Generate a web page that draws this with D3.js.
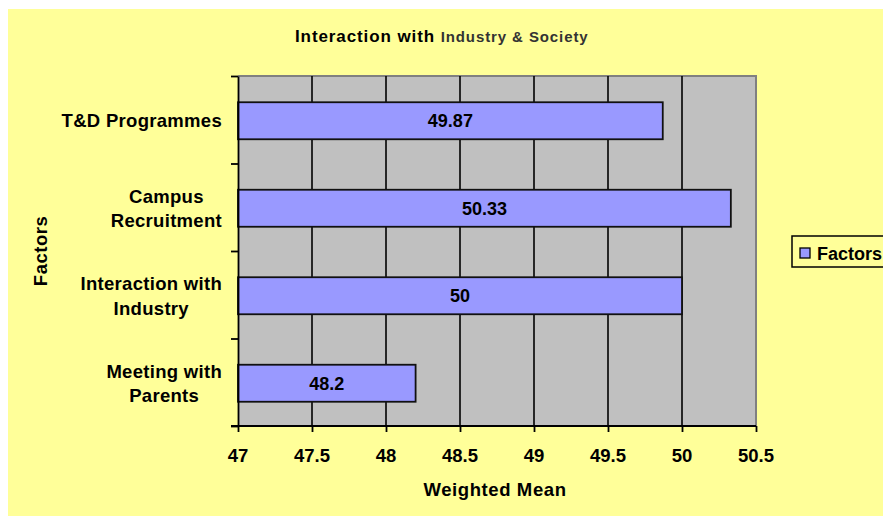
<!DOCTYPE html>
<html>
<head>
<meta charset="utf-8">
<script src="https://cdn.jsdelivr.net/npm/d3@7"></script>
<style>
  html, body { margin: 0; padding: 0; background: #ffffff; }
  svg { display: block; font-family: "Liberation Sans", Arial, sans-serif; font-weight: bold; }
</style>
</head>
<body>
<svg id="chart" width="883" height="516"></svg>
<script>
// Factors, top to bottom, with their weighted means
const categories = [
  ["T&D Programmes"],
  ["Campus", "Recruitment"],
  ["Interaction with", "Industry"],
  ["Meeting with", "Parents"]
];
const values = [49.87, 50.33, 50, 48.2];
const xTicks = [47, 47.5, 48, 48.5, 49, 49.5, 50, 50.5];
const seriesName = "Factors";

const svg = d3.select("#chart");

// chart area background
svg.append("rect")
  .attr("x", 8).attr("y", 9).attr("width", 875).attr("height", 507)
  .attr("fill", "#ffff99");

const plot = { left: 238, right: 756, top: 76, bottom: 426 };

const x = d3.scaleLinear().domain([47, 50.5]).range([plot.left, plot.right]);
const keys = categories.map(c => c.join(" "));
const y = d3.scaleBand().domain(keys).range([plot.top, plot.bottom])
  .paddingInner(0.577).paddingOuter(0.2886);
const yEdge = d3.scaleLinear().domain([0, keys.length]).range([plot.top, plot.bottom]);

// plot area
svg.append("rect")
  .attr("x", plot.left).attr("y", plot.top)
  .attr("width", plot.right - plot.left).attr("height", plot.bottom - plot.top)
  .attr("fill", "#c0c0c0");

// frame: top and right edges in grey
svg.append("path")
  .attr("d", `M${plot.left},${plot.top}H${plot.right}V${plot.bottom}`)
  .attr("fill", "none").attr("stroke", "#808080").attr("stroke-width", 2);

// vertical gridlines
svg.append("g").selectAll("line")
  .data(xTicks.filter(t => t > 47 && t < 50.5))
  .join("line")
  .attr("x1", d => x(d)).attr("x2", d => x(d))
  .attr("y1", plot.top).attr("y2", plot.bottom)
  .attr("stroke", "#000").attr("stroke-width", 1.6);

// bars
svg.append("g").selectAll("rect")
  .data(values)
  .join("rect")
  .attr("x", x(47))
  .attr("y", (d, i) => y(keys[i]) + 1)
  .attr("width", d => x(d) - x(47))
  .attr("height", y.bandwidth())
  .attr("fill", "#9999ff")
  .attr("stroke", "#111").attr("stroke-width", 1.8);

// value labels inside the bars
svg.append("g").selectAll("text")
  .data(values)
  .join("text")
  .attr("x", d => (x(47) + x(d)) / 2)
  .attr("y", (d, i) => y(keys[i]) + 1 + y.bandwidth() / 2)
  .attr("dy", "0.36em")
  .attr("text-anchor", "middle")
  .attr("font-size", 18)
  .attr("fill", "#000")
  .text(d => d);

// left axis with ticks on the category boundaries
const yAxis = svg.append("g")
  .attr("transform", `translate(${plot.left},0)`)
  .call(d3.axisLeft(yEdge).tickValues(d3.range(keys.length + 1)).tickSize(7).tickSizeOuter(0).tickFormat(""));
yAxis.selectAll("path, line").attr("stroke", "#000").attr("stroke-width", 1.8);

// bottom axis
const xAxis = svg.append("g")
  .attr("transform", `translate(0,${plot.bottom})`)
  .call(d3.axisBottom(x).tickValues(xTicks).tickSize(6).tickSizeOuter(0).tickFormat(""));
xAxis.select("path.domain").attr("d", `M${plot.left - 7},0H${plot.right}`);
xAxis.selectAll("path, line").attr("stroke", "#000").attr("stroke-width", 1.8);

svg.append("g").selectAll("text")
  .data(xTicks)
  .join("text")
  .attr("x", d => x(d))
  .attr("y", 462)
  .attr("text-anchor", "middle")
  .attr("font-size", 18.5)
  .attr("fill", "#000")
  .text(d => d);

// category labels
const catLabels = svg.append("g");
categories.forEach((lines, i) => {
  const cy = y(keys[i]) + y.bandwidth() / 2 + 1;
  const lineH = 24.5;
  const t = catLabels.append("text")
    .attr("text-anchor", "middle")
    .attr("font-size", 18.5)
    .attr("letter-spacing", 0.3)
    .attr("fill", "#000");
  lines.forEach((ln, j) => {
    t.append("tspan")
      .attr("x", 0)
      .attr("y", cy + (j - (lines.length - 1) / 2) * lineH)
      .attr("dy", "0.36em")
      .text(ln);
  });
  const w = t.node().getBBox().width;
  t.attr("transform", `translate(${222 - w / 2},0)`);
});

// axis titles
svg.append("text")
  .attr("x", 495).attr("y", 496)
  .attr("text-anchor", "middle")
  .attr("font-size", 18.5)
  .attr("letter-spacing", 0.6)
  .attr("fill", "#000")
  .text("Weighted Mean");

svg.append("text")
  .attr("transform", "translate(47,251) rotate(-90)")
  .attr("text-anchor", "middle")
  .attr("font-size", 18.5)
  .attr("letter-spacing", 0.5)
  .attr("fill", "#000")
  .text("Factors");

// chart title
const title = svg.append("text")
  .attr("x", 295).attr("y", 42)
  .attr("fill", "#000");
title.append("tspan")
  .attr("font-size", 17)
  .attr("letter-spacing", 0.9)
  .text("Interaction with ");
title.append("tspan")
  .attr("font-size", 15)
  .attr("letter-spacing", 0.9)
  .attr("fill", "#333")
  .text("Industry & Society");

// legend
const legend = svg.append("g");
legend.append("rect")
  .attr("x", 792).attr("y", 236).attr("width", 110).attr("height", 31)
  .attr("fill", "#ffff99").attr("stroke", "#000").attr("stroke-width", 1.5);
legend.append("rect")
  .attr("x", 800).attr("y", 248).attr("width", 10).attr("height", 10)
  .attr("fill", "#9999ff").attr("stroke", "#000").attr("stroke-width", 1.3);
legend.append("text")
  .attr("x", 817).attr("y", 259.5)
  .attr("font-size", 18)
  .attr("fill", "#000")
  .text(seriesName);
</script>
</body>
</html>
